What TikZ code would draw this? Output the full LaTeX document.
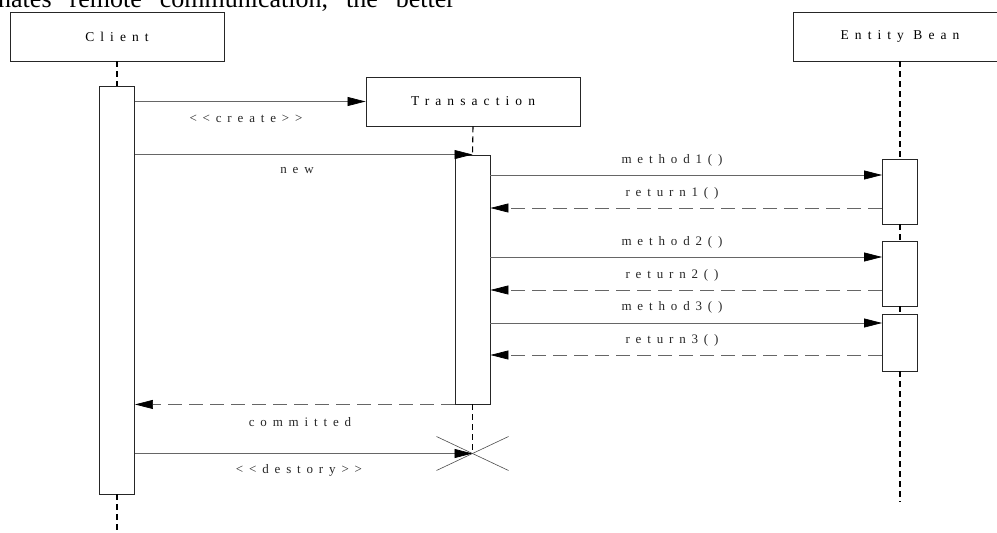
\documentclass[tikz,border=0pt]{standalone}
\usepackage{fontspec}
\setmainfont{Liberation Serif}
\newfontfamily\lblfont[LetterSpace=45]{Liberation Serif}
\usetikzlibrary{arrows.meta}

\begin{document}
\begin{tikzpicture}[x=1pt,y=-1pt,
  obj/.style={draw=black!85, line width=0.9pt, fill=white,
    minimum width=214pt, minimum height=49pt, inner sep=0pt,
    font=\lblfont\fontsize{13.5}{13.5}\selectfont},
  act/.style={draw=black!85, line width=0.9pt, fill=white,
    minimum width=35pt, inner sep=0pt},
  life/.style={draw=black, line width=1.1pt, dash pattern=on 6pt off 4pt},
  call/.style={draw=black!60, line width=0.7pt,
    -{Triangle[length=18pt,width=9pt,color=black]}},
  ret/.style={call, dash pattern=on 14pt off 7pt},
  lbl/.style={font=\lblfont\fontsize{13}{13}\selectfont, inner sep=0pt,
    text=black!85},
  cross/.style={draw=black!70, line width=0.6pt},
]
\useasboundingbox (0,0) rectangle (997,533);
\clip (0,0) rectangle (997,533);

% running text of the page above the figure
\node[anchor=base west, inner sep=0pt, font=\fontsize{26}{26}\selectfont]
  (pagetext) at (-2,7) {nates\hspace{18pt}remote\hspace{18pt}communication,\hspace{18pt}the\hspace{18pt}better};

% lifeline heads
\node[obj] (client) at (117,36.5) {Client};
\node[obj] (trans)  at (473,101.5) {Transaction};
\node[obj] (ent)    at (900,36.5) {Entity Bean};

% activation bars
\node[act, minimum height=408pt] (cact) at (117,290) {};
\node[act, minimum height=249pt] (tact) at (472.5,279.5) {};
\node[act, minimum height=65pt]  (e1)   at (900,191.5) {};
\node[act, minimum height=65pt]  (e2)   at (900,273.5) {};
\node[act, minimum height=57pt]  (e3)   at (900,342.5) {};

\coordinate (cend) at (117,533);
\coordinate (tx)   at (472.5,453.5);
\coordinate (eend) at (900,502);

% lifelines
\draw[life] (client.south) -- (cact.north);
\draw[life] (cact.south) -- (cend);
\draw[life] (trans.south) -- (tact.north);
\draw[life] (tact.south) -- (tx);
\draw[life] (ent.south) -- (e1.north);
\draw[life] (e1.south) -- (e2.north);
\draw[life] (e2.south) -- (e3.north);
\draw[life] (e3.south) -- (eend);

% messages
\draw[call] (cact.east |- trans.west) -- (trans.west);
\node[lbl] (lcreate) at (246,119) {<<create>>};

\draw[call] (cact.east |- tact.north) -- (tact.north);
\node[lbl] (lnew) at (297,170) {new};

\draw[call] (tact.east |- 0,175) -- (e1.west |- 0,175);
\node[lbl] (lm1) at (672,160) {method1()};
\draw[ret] (e1.west |- 0,208) -- (tact.east |- 0,208);
\node[lbl] (lr1) at (672,193) {return1()};

\draw[call] (tact.east |- 0,257) -- (e2.west |- 0,257);
\node[lbl] (lm2) at (672,242) {method2()};
\draw[ret] (e2.west |- 0,290) -- (tact.east |- 0,290);
\node[lbl] (lr2) at (672,275) {return2()};

\draw[call] (tact.east |- 0,323) -- (e3.west |- 0,323);
\node[lbl] (lm3) at (672,307) {method3()};
\draw[ret] (e3.west |- 0,355) -- (tact.east |- 0,355);
\node[lbl] (lr3) at (672,340) {return3()};

\draw[ret] (tact.south west) -- (cact.east |- tact.south);
\node[lbl] (lcommit) at (300,422) {committed};

\draw[call] (cact.east |- tx) -- (tx);
\node[lbl] (ldestroy) at (299,470) {<<destory>>};

% destruction mark
\draw[cross] (tx) +(-36,-17) -- +(36,17);
\draw[cross] (tx) +(-36,17) -- +(36,-17);
\end{tikzpicture}
\end{document}
